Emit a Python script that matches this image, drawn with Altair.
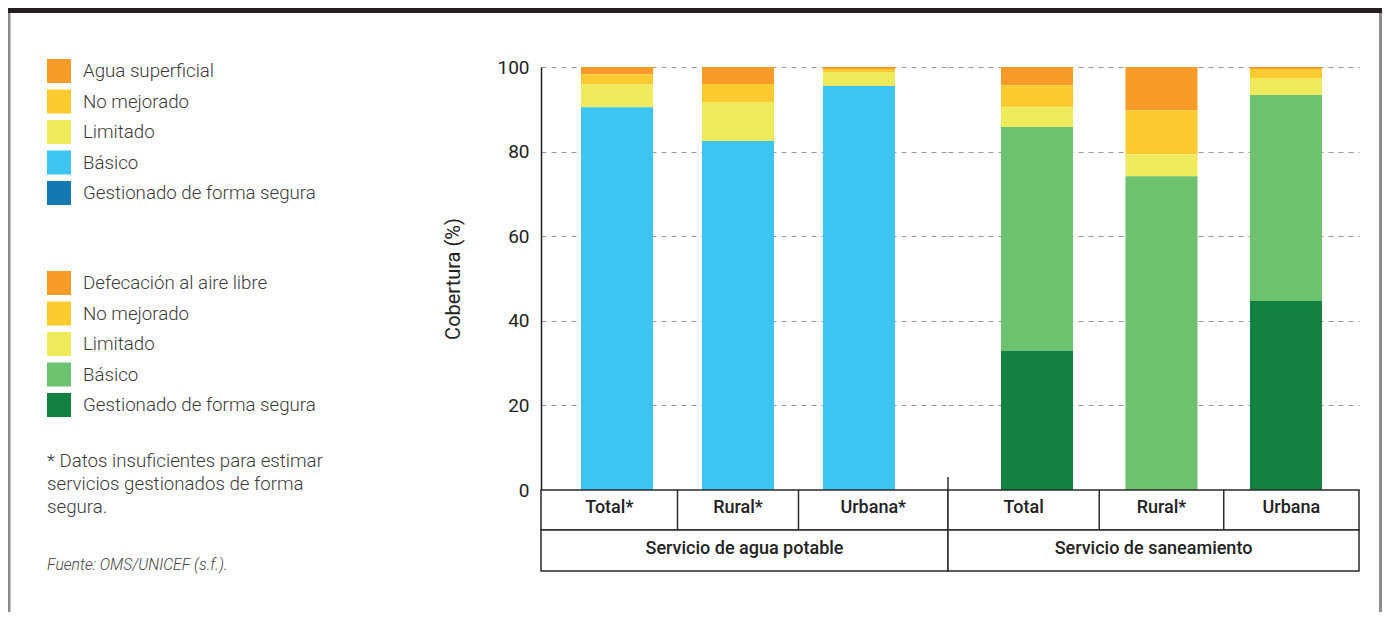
import altair as alt
import pandas as pd

# ---------------- data ----------------
agua_subcategorias = ["Total*", "Rural*", "Urbana*"]
agua_categorias = ["Agua superficial", "No mejorado", "Limitado", "Básico",
                   "Gestionado de forma segura"]
agua_colores = ["#F89B28", "#FCCB30", "#F0EB5C", "#3EC4F1", "#1479B3"]
agua_superficial = [1.7, 4.0, 0.5]
agua_no_mejorado = [2.4, 4.3, 0.7]
agua_limitado = [5.4, 9.2, 3.3]
agua_basico = [90.5, 82.5, 95.5]
agua_gestionado = [0.0, 0.0, 0.0]

san_subcategorias = ["Total", "Rural*", "Urbana"]
san_categorias = ["Defecación al aire libre", "No mejorado", "Limitado", "Básico",
                  "Gestionado de forma segura"]
san_colores = ["#F89B28", "#FCCB30", "#F0EB5C", "#6DC270", "#138140"]
san_aire_libre = [4.3, 10.2, 0.5]
san_no_mejorado = [5.2, 10.4, 2.1]
san_limitado = [4.7, 5.2, 4.0]
san_basico = [52.9, 74.2, 48.7]
san_gestionado = [32.9, 0.0, 44.7]

grupos = ["Servicio de agua potable", "Servicio de saneamiento"]
y_ticks = [0, 20, 40, 60, 80, 100]
y_titulo = "Cobertura (%)"
nota = ["* Datos insuficientes para estimar", "servicios gestionados de forma", "segura."]
fuente = "Fuente: OMS/UNICEF (s.f.)."

# ---------------- layout constants ----------------
H = 423            # plot height
W_AGUA = 407
W_SAN = 411
ORIGIN = (541, 67)  # page position of the water panel plot origin
LINE = "#2b2b2b"
TXT = "#3a3a3a"
FONT = "Roboto"


def tabla(subcats, categorias, series):
    filas = []
    n = len(categorias)
    for i, (cat, vals) in enumerate(zip(categorias, series)):
        for sub, v in zip(subcats, vals):
            if v > 0:
                filas.append({"sub": sub, "categoria": cat, "valor": v, "orden": n - 1 - i})
    return pd.DataFrame(filas)


def one(**kw):
    return pd.DataFrame([kw])


def panel(subcats, categorias, colores, series, grupo, width, pad_outer, align,
          legend_pos, y_axis):
    df = tabla(subcats, categorias, series)
    xscale = alt.Scale(domain=subcats, paddingInner=0, paddingOuter=pad_outer, align=align)
    bars = alt.Chart(df).mark_bar(size=72).encode(
        x=alt.X("sub:N", scale=xscale, axis=None),
        y=alt.Y("valor:Q", stack="zero",
                scale=alt.Scale(domain=[0, 100], nice=False), axis=y_axis),
        color=alt.Color(
            "categoria:N",
            scale=alt.Scale(domain=categorias, range=colores),
            legend=alt.Legend(
                orient="none", legendX=legend_pos[0], legendY=legend_pos[1],
                title=None, symbolType="square", symbolSize=576,
                symbolStrokeWidth=0, symbolOpacity=1, labelFont=FONT,
                labelFontSize=18.7, labelFontWeight=300, labelColor=TXT,
                labelOffset=12, rowPadding=6.5, padding=0, labelLimit=400,
            ),
        ),
        order=alt.Order("orden:Q"),
    )
    fila1 = alt.Chart(one(g=grupo)).mark_rect(
        fill="white", stroke=LINE, strokeWidth=1.5
    ).encode(x=alt.value(0), x2=alt.value(width), y=alt.value(H), y2=alt.value(H + 40))
    fila2 = alt.Chart(one(g=grupo)).mark_rect(
        fill="white", stroke=LINE, strokeWidth=1.5
    ).encode(x=alt.value(0), x2=alt.value(width), y=alt.value(H + 40), y2=alt.value(H + 81))
    seps = alt.Chart(pd.DataFrame({"sub": subcats[1:]})).mark_rule(
        color=LINE, strokeWidth=1.5
    ).encode(
        x=alt.X("sub:N", scale=xscale, axis=None, bandPosition=0),
        y=alt.value(H), y2=alt.value(H + 40),
    )
    # labels centred in their table cell (outer cells include the outer padding)
    band_pos = [
        (1 - 2 * pad_outer * align) / 2,
        0.5,
        (1 + 2 * pad_outer * (1 - align)) / 2,
    ]
    etiquetas = [
        alt.Chart(pd.DataFrame({"sub": [s]})).mark_text(
            font=FONT, fontSize=18, fontWeight=500, color="#222222", baseline="middle"
        ).encode(x=alt.X("sub:N", scale=xscale, axis=None, bandPosition=bp),
                 y=alt.value(H + 18), text="sub:N")
        for s, bp in zip(subcats, band_pos)
    ]
    etiqueta_grupo = alt.Chart(one(g=grupo)).mark_text(
        font=FONT, fontSize=18, fontWeight=500, color="#222222", baseline="middle"
    ).encode(x=alt.value(width / 2), y=alt.value(H + 59), text="g:N")
    return [bars, fila1, fila2, seps, *etiquetas, etiqueta_grupo]


def rel(px, py):
    return px - ORIGIN[0], py - ORIGIN[1]


axis_agua = alt.Axis(
    values=y_ticks, title=y_titulo, titleFont=FONT, titleFontSize=20,
    titleFontWeight="normal", titleColor="#222222", titlePadding=33,
    labelFont=FONT, labelFontSize=19, labelColor="#222222", labelPadding=12,
    ticks=False, domain=True, domainColor="#231f20", domainWidth=1.5,
    grid=True, gridColor="#999999", gridDash=[5, 5], gridWidth=1,
)
axis_san = alt.Axis(
    values=y_ticks, title=None, labels=False, ticks=False, domain=False,
    grid=True, gridColor="#999999", gridDash=[5, 5], gridWidth=1,
)

capas_agua = panel(
    agua_subcategorias, agua_categorias, agua_colores,
    [agua_superficial, agua_no_mejorado, agua_limitado, agua_basico, agua_gestionado],
    grupos[0], W_AGUA, 0.1818, 0.352, rel(47, 59), axis_agua,
)
capas_san = panel(
    san_subcategorias, san_categorias, san_colores,
    [san_aire_libre, san_no_mejorado, san_limitado, san_basico, san_gestionado],
    grupos[1], W_SAN, 0.1506, 0.713, (47 - 948, 271 - 67), axis_san,
)

# decorations: frame, footnote and source (water panel coordinates)
x0, y0 = rel(8, 8)
x1, _ = rel(1382, 8)
_, yb = rel(8, 612)
barra = alt.Chart(one(k="marco")).mark_rect(color="#231f20").encode(
    x=alt.value(x0), x2=alt.value(x1), y=alt.value(y0), y2=alt.value(y0 + 5))
borde_izq = alt.Chart(one(k="marco")).mark_rect(color="#8c8c8c").encode(
    x=alt.value(x0), x2=alt.value(x0 + 2.5), y=alt.value(y0 + 5), y2=alt.value(yb))
borde_der = alt.Chart(one(k="marco")).mark_rect(color="#8c8c8c").encode(
    x=alt.value(x1 - 3), x2=alt.value(x1), y=alt.value(y0 + 5), y2=alt.value(yb))

nx, ny = rel(47, 467)
texto_nota = alt.Chart(one(t="\n".join(nota))).mark_text(
    font=FONT, fontSize=18.7, fontWeight=300, align="left", baseline="alphabetic",
    lineHeight=23, lineBreak="\n", color=TXT,
).encode(x=alt.value(nx), y=alt.value(ny), text="t:N")
fx, fy = rel(47, 570)
texto_fuente = alt.Chart(one(t=fuente)).mark_text(
    font=FONT, fontSize=15.7, fontWeight=300, fontStyle="italic", align="left",
    baseline="alphabetic", color="#444444",
).encode(x=alt.value(fx), y=alt.value(fy), text="t:N")

# short divider above the table between both groups
divisor = alt.Chart(one(k="div")).mark_rule(color=LINE, strokeWidth=1.5).encode(
    x=alt.value(0), y=alt.value(H - 13), y2=alt.value(H))

agua = alt.layer(*capas_agua, barra, borde_izq, borde_der, texto_nota, texto_fuente).properties(
    width=W_AGUA, height=H)
san = alt.layer(*capas_san, divisor).properties(width=W_SAN, height=H)

chart = (
    alt.hconcat(agua, san, spacing=0, bounds="flush")
    .resolve_scale(color="independent")
    .properties(padding=0)
    .configure(font=FONT)
    .configure_view(stroke=None)
)

chart.save("out.html", embed_options={"renderer": "svg", "actions": False})
